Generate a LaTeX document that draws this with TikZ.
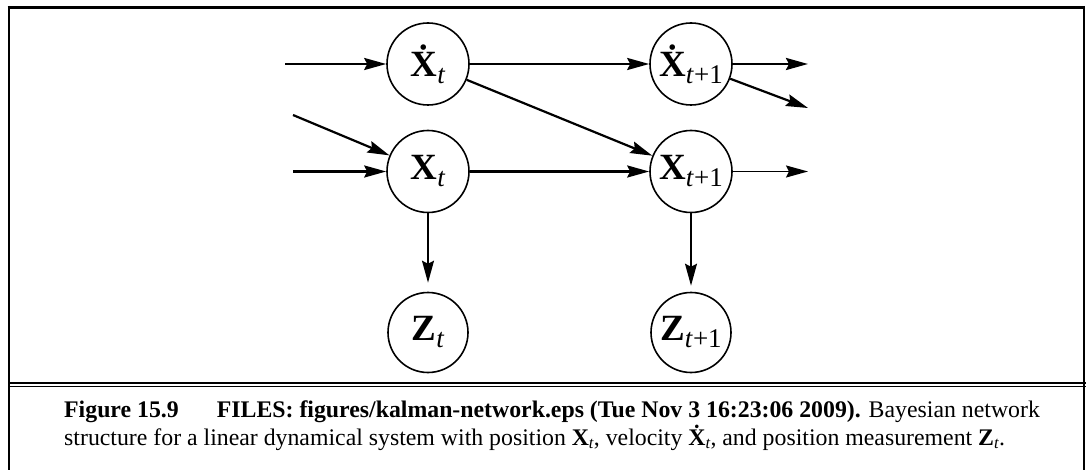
\documentclass[tikz,border=0pt]{standalone}
\usepackage{fontspec}
\setmainfont{Liberation Serif}
\usetikzlibrary{arrows.meta}
\newcommand{\nlbl}[2]{\textbf{#1}\raisebox{-7pt}{\fontsize{27}{27}\selectfont #2}}
\newcommand{\csub}[1]{\raisebox{-3.5pt}{\fontsize{16.5}{16.5}\selectfont\textit{#1}}}
\begin{document}
\begin{tikzpicture}[x=1pt,y=-1pt,
  var/.style={circle,draw,line width=1.6pt,minimum size=82pt,inner sep=0pt,font=\fontsize{37}{37}\selectfont},
  arr/.style={-{Stealth[length=22pt,width=12pt,inset=3pt]},line width=2.5pt},
  thinarr/.style={-{Stealth[length=22pt,width=12pt,inset=3pt]},line width=1.5pt}]
\useasboundingbox (0,0) rectangle (1086,470);
% frame
\draw[line width=3pt] (7.7,7.5) -- (1085.3,7.5);
\draw[line width=2.2pt] (8.8,6) -- (8.8,470);
\draw[line width=2pt] (1084.3,6) -- (1084.3,470);
\draw[line width=2.7pt] (8,383) -- (1086,383);
\draw[line width=1.3pt] (8,386.4) -- (1086,386.4);
% nodes
\node[var] (vt) at (428,64) {\nlbl{\.{X}}{\textit{t}}};
\node[var] (vt1) at (691,64) {\nlbl{\.{X}}{\textit{t}+1}};
\node[var] (xt) at (428,171.5) {\nlbl{X}{\textit{t}}};
\node[var] (xt1) at (691,171.5) {\nlbl{X}{\textit{t}+1}};
\node[var,minimum size=80pt] (zt) at (428,332.5) {\nlbl{Z}{\textit{t}}};
\node[var,minimum size=80pt] (zt1) at (691,332.5) {\nlbl{Z}{\textit{t}+1}};
% free ends
\coordinate (in1) at (285,64);
\coordinate (in2) at (293,115);
\coordinate (in3) at (293,171.5);
\coordinate (out1) at (808,64);
\coordinate (out2) at (808,108);
\coordinate (out3) at (808,171.5);
% connectors
\draw[arr] (in1) -- (vt);
\draw[arr] (vt) -- (vt1);
\draw[arr,line width=2.2pt] (vt) -- (xt1);
\draw[arr,line width=2.2pt] (in2) -- (xt);
\draw[arr] (in3) -- (xt);
\draw[arr] (xt) -- (xt1);
\draw[arr,line width=2.6pt] (vt1) -- (out1);
\draw[arr,line width=2.2pt] (vt1) -- (out2);
\draw[thinarr,line width=1.7pt] (xt1) -- (out3);
\draw[thinarr,shorten >=9pt] (xt) -- (zt);
\draw[thinarr,shorten >=6pt] (xt1) -- (zt1);
% caption
\node[anchor=base west,inner sep=0pt,font=\fontsize{23.8}{28}\selectfont] (cap1) at (64,417)
  {\textbf{Figure 15.9}\hspace{1.6em}\textbf{FILES: figures/kalman-network.eps (Tue Nov 3 16:23:06 2009).} Bayesian network};
\node[anchor=base west,inner sep=0pt,font=\fontsize{23.8}{28}\selectfont] (cap2) at (64,445)
  {structure for a linear dynamical system with position \textbf{X}\csub{t}, velocity \textbf{\.{X}}\csub{t}, and position measurement \textbf{Z}\csub{t}.};
\end{tikzpicture}
\end{document}
